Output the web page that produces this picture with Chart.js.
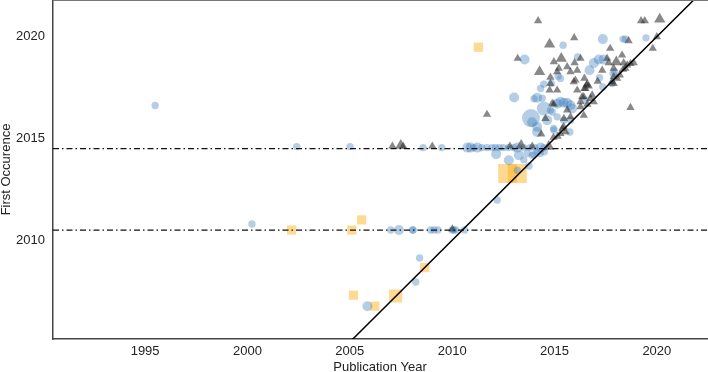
<!DOCTYPE html>
<html>
<head>
<meta charset="utf-8">
<script src="https://cdn.jsdelivr.net/npm/chart.js@4.4.0/dist/chart.umd.min.js"></script>
<style>
  html, body { margin: 0; padding: 0; background: #fff; }
</style>
</head>
<body>
<canvas id="grafico" width="708" height="372"></canvas>
<script>
// blue circles (x = publication year, y = first occurrence, w = size class)
const circleX = [1995.49, 2000.22, 2002.41, 2005.01, 2007.0, 2007.4, 2008.06, 2008.1, 2008.95, 2009.11, 2009.3, 2010.0, 2010.08, 2010.17, 2010.6,
  2008.41, 2008.22, 2005.86, 2012.2,
  2008.58, 2009.49, 2010.74, 2010.9, 2011.05, 2011.23, 2011.45, 2011.7, 2011.95, 2012.12, 2012.3, 2012.5, 2012.75, 2013.0, 2013.18, 2013.5, 2013.8, 2014.05, 2014.32, 2014.48,
  2012.15, 2012.77, 2013.26, 2013.67, 2014.0, 2014.3, 2013.75, 2013.5, 2013.18, 2014.5, 2013.91, 2014.15,
  2013.03, 2014.0, 2014.15, 2014.4, 2014.48, 2015.13, 2015.29, 2015.45, 2015.62, 2015.78, 2015.86, 2013.85, 2014.15, 2014.89, 2014.64, 2014.96, 2015.75,
  2015.42, 2017.36, 2018.35, 2018.46, 2019.47, 2013.54, 2016.13, 2016.92, 2017.16, 2017.4, 2016.71, 2017.2, 2017.94, 2017.86, 2017.81, 2017.36, 2016.51,
  2015.18, 2015.29, 2014.84, 2014.48, 2014.32, 2013.9, 2014.15, 2014.8, 2015.13, 2015.45, 2014.97, 2015.78];
const circleY = [2016.62, 2010.8, 2014.6, 2014.6, 2010.5, 2010.5, 2010.5, 2010.5, 2010.5, 2010.5, 2010.5, 2010.5, 2010.5, 2010.5, 2010.5,
  2009.13, 2007.95, 2006.76, 2011.98,
  2014.55, 2014.55, 2014.55, 2014.55, 2014.55, 2014.55, 2014.55, 2014.55, 2014.55, 2014.55, 2014.55, 2014.55, 2014.55, 2014.55, 2014.55, 2014.55, 2014.55, 2014.55, 2014.55, 2014.55,
  2014.23, 2013.93, 2014.18, 2014.26, 2014.2, 2014.26, 2013.65, 2013.95, 2013.44, 2014.35, 2014.18, 2014.35,
  2017.01, 2016.95, 2017.0, 2016.98, 2016.47, 2016.7, 2016.8, 2016.75, 2016.75, 2016.63, 2016.47, 2016.0, 2015.32, 2016.3, 2015.9, 2015.49, 2015.32,
  2019.58, 2019.88, 2019.88, 2019.88, 2019.94, 2018.88, 2019.0, 2018.7, 2018.88, 2018.88, 2018.35, 2017.98, 2018.27, 2018.19, 2017.7, 2017.53, 2016.88,
  2018.06, 2017.95, 2017.7, 2017.67, 2017.45, 2015.8, 2015.57, 2016.39, 2016.06, 2015.9, 2015.41, 2015.9];
const circleW = [1, 1, 1, 1, 1, 2, 1, 1, 1, 1, 1, 1, 1, 1, 1,
  1, 1, 2, 1,
  1, 1, 2, 2, 1, 2, 1, 1, 1, 1, 1, 1, 1, 1, 2, 1, 1, 1, 2, 1,
  2, 2, 2, 1, 1, 1, 1, 1, 1, 1, 1, 1,
  2, 1, 2, 1, 3, 2, 2, 2, 2, 2, 2, 4, 2, 1, 2, 1, 1,
  1, 2, 1, 1, 1, 2, 1, 2, 2, 2, 2, 1, 1, 1, 1, 1, 1,
  1, 1, 1, 1, 1, 2, 2, 1, 1, 1, 1, 1];

// grey triangles
const triX = [2007.08, 2007.49, 2007.61, 2009.03, 2010.01, 2012.82, 2013.37, 2013.91, 2014.72,
  2014.2, 2019.23, 2019.41, 2020.14, 2015.96, 2014.76, 2018.62, 2020.0, 2017.72, 2019.8, 2013.2,
  2014.97, 2015.33, 2015.62, 2015.98, 2016.27, 2015.78, 2016.11, 2015.21, 2015.13, 2014.27,
  2017.57, 2017.65, 2018.02, 2018.38, 2018.71, 2018.87, 2018.3, 2017.33, 2017.89, 2018.46, 2018.55,
  2016.46, 2018.06, 2018.19, 2017.89, 2016.56, 2016.46, 2016.84, 2016.35, 2016.27, 2018.71,
  2014.8, 2014.8, 2015.94, 2016.02, 2016.6, 2017.11, 2014.76, 2015.13, 2016.11, 2016.51, 2016.67,
  2014.89, 2016.43, 2016.76, 2016.92, 2014.97, 2015.62, 2016.27, 2016.6, 2014.56, 2015.45, 2015.29, 2015.54, 2014.35,
  2011.7, 2015.46, 2015.78, 2016.43, 2015.38, 2014.95, 2015.15, 2017.89, 2017.81, 2018.35];
const triY = [2014.62, 2014.65, 2014.62, 2014.62, 2010.55, 2014.62, 2014.65, 2014.62, 2014.6,
  2020.78, 2020.78, 2020.78, 2020.86, 2019.94, 2019.63, 2019.79, 2019.99, 2019.42, 2019.42, 2018.93,
  2018.76, 2018.93, 2018.52, 2018.71, 2018.93, 2018.27, 2018.35, 2018.44, 2018.27, 2018.27,
  2018.93, 2018.71, 2018.76, 2018.71, 2018.68, 2018.71, 2019.09, 2018.35, 2018.44, 2018.44, 2018.6,
  2017.95, 2017.95, 2018.11, 2017.7, 2017.62, 2017.45, 2017.13, 2017.04, 2016.8, 2016.52,
  2018.0, 2017.7, 2017.78, 2017.86, 2017.67, 2017.81, 2017.37, 2017.37, 2017.37, 2017.45, 2017.57,
  2016.72, 2017.04, 2016.96, 2016.8, 2016.68, 2016.39, 2016.55, 2016.68, 2015.98, 2015.57, 2015.24, 2015.32, 2015.21,
  2016.18, 2015.98, 2016.06, 2016.14, 2015.49, 2015.05, 2015.1, 2018.02, 2017.78, 2018.39];
const triW = [1, 2, 1, 1, 1, 1, 2, 1, 2,
  1, 1, 1, 2, 1, 2, 1, 1, 1, 1, 1,
  1, 2, 1, 1, 1, 1, 1, 1, 1, 2,
  1, 1, 2, 1, 1, 1, 1, 1, 1, 1, 1,
  1, 1, 1, 1, 1, 1, 1, 1, 1, 1,
  1, 1, 1, 1, 1, 1, 1, 1, 1, 1, 1,
  1, 1, 1, 1, 1, 1, 1, 1, 1, 1, 1, 1, 1,
  1, 1, 1, 1, 1, 1, 1, 1, 1, 1];

// orange squares
const sqX = [2002.16, 2005.1, 2005.58, 2005.18, 2006.22, 2007.24, 2008.66, 2012.71, 2013.18, 2011.28];
const sqY = [2010.5, 2010.5, 2011.0, 2007.3, 2006.76, 2007.26, 2008.66, 2013.28, 2013.28, 2019.48];
const sqW = [1, 1, 1, 1, 1, 2, 1, 3, 3, 1];

const linhasRef = [2010.5, 2014.5];
const xTicks = [1995, 2000, 2005, 2010, 2015, 2020];
const yTicks = [2010, 2015, 2020];
const xMin = 1990.5, xMax = 2022.45;
const yMin = 2005.15, yMax = 2021.8;

const raioCirculo = [0, 3.7, 5, 7, 9];
const raioTriangulo = [0, 4.8, 6.5];
const raioQuadrado = [0, 6.5, 9.2, 13.4];

function pontos(xs, ys) {
    return xs.map((x, i) => ({ x: x, y: ys[i] }));
}

function semPadding(s) {
    s.paddingTop = 0;
    s.paddingBottom = 0;
    s.paddingLeft = 0;
    s.paddingRight = 0;
}

const fonte = { family: "Arial, 'Liberation Sans', sans-serif", size: 13 };

const datasets = [];

linhasRef.forEach(v => {
    datasets.push({
        type: "line",
        data: [{ x: xMin, y: v }, { x: xMax, y: v }],
        borderColor: "#111",
        borderWidth: 1.3,
        borderDash: [6, 3, 1.5, 3],
        pointRadius: 0,
        order: 0
    });
});

datasets.push({
    type: "line",
    data: [{ x: 2004, y: 2004 }, { x: 2023, y: 2023 }],
    borderColor: "#000",
    borderWidth: 1.5,
    pointRadius: 0,
    order: 0
});

datasets.push({
    data: pontos(triX, triY),
    pointStyle: "triangle",
    pointRadius: triW.map(w => raioTriangulo[w]),
    backgroundColor: "rgba(40,40,40,0.55)",
    borderWidth: 0,
    order: 1
});

datasets.push({
    data: pontos(circleX, circleY),
    pointStyle: "circle",
    pointRadius: circleW.map(w => raioCirculo[w]),
    backgroundColor: "rgba(60,125,190,0.38)",
    borderWidth: 0,
    order: 2
});

datasets.push({
    data: pontos(sqX, sqY),
    pointStyle: "rect",
    pointRadius: sqW.map(w => raioQuadrado[w]),
    backgroundColor: "rgba(255,170,10,0.45)",
    borderWidth: 0,
    order: 3
});

// moldura de cima
const moldura = {
    id: "moldura",
    afterDraw(chart) {
        const { ctx, chartArea } = chart;
        ctx.save();
        ctx.strokeStyle = "#777";
        ctx.lineWidth = 2;
        ctx.beginPath();
        ctx.moveTo(chartArea.left, chartArea.top);
        ctx.lineTo(chartArea.right + 2, chartArea.top);
        ctx.stroke();
        ctx.restore();
    }
};

new Chart(document.getElementById("grafico"), {
    type: "scatter",
    data: { datasets: datasets },
    plugins: [moldura],
    options: {
        responsive: false,
        animation: false,
        devicePixelRatio: 1,
        layout: { autoPadding: false, padding: { top: 0, right: 1, bottom: 0, left: 0 } },
        plugins: { legend: { display: false }, tooltip: { enabled: false } },
        scales: {
            x: {
                type: "linear",
                min: xMin,
                max: xMax,
                afterBuildTicks: s => { s.ticks = xTicks.map(v => ({ value: v })); },
                afterFit: s => { s.height = 33; semPadding(s); },
                grid: { display: false, drawTicks: false },
                border: { display: true, color: "#444", width: 1.5 },
                ticks: { color: "#222", font: fonte, padding: 5, maxRotation: 0, callback: v => String(v) },
                title: { display: true, text: "Publication Year", color: "#222", font: { ...fonte, lineHeight: 1 }, padding: { top: 0, bottom: -2 } }
            },
            y: {
                type: "linear",
                min: yMin,
                max: yMax,
                afterBuildTicks: s => { s.ticks = yTicks.map(v => ({ value: v })); },
                afterFit: s => { s.width = 53; semPadding(s); },
                grid: { display: false, drawTicks: false },
                border: { display: true, color: "#444", width: 1.5 },
                ticks: { color: "#222", font: fonte, padding: 8, callback: v => String(v) },
                title: { display: true, text: "First Occurence", color: "#222", font: { ...fonte, lineHeight: 1 }, padding: 0 }
            }
        }
    }
});
</script>
</body>
</html>
